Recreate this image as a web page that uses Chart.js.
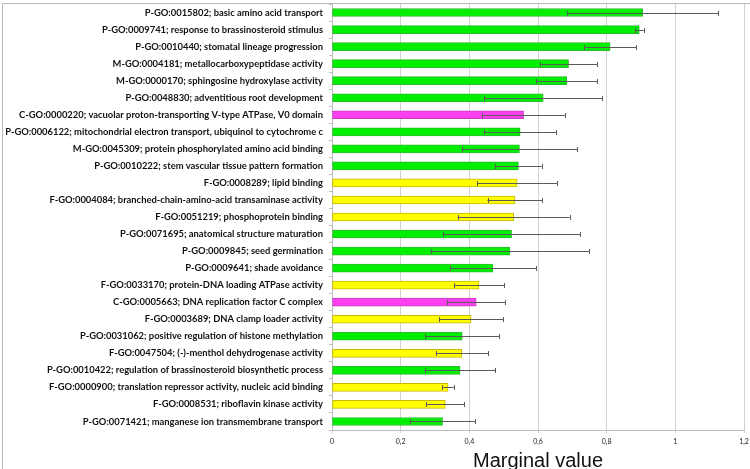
<!DOCTYPE html>
<html>
<head>
<meta charset="utf-8">
<script src="https://cdn.jsdelivr.net/npm/chart.js@4.4.1/dist/chart.umd.min.js"></script>
<style>
  body { margin: 0; background: #fff; }
  canvas { display: block; }
</style>
</head>
<body>
<canvas id="chart" width="750" height="469"></canvas>
<script>
// GO terms, top to bottom as in the figure
const terms = [
  "P-GO:0015802; basic amino acid transport",
  "P-GO:0009741; response to brassinosteroid stimulus",
  "P-GO:0010440; stomatal lineage progression",
  "M-GO:0004181; metallocarboxypeptidase activity",
  "M-GO:0000170; sphingosine hydroxylase activity",
  "P-GO:0048830; adventitious root development",
  "C-GO:0000220; vacuolar proton-transporting V-type ATPase, V0 domain",
  "P-GO:0006122; mitochondrial electron transport, ubiquinol to cytochrome c",
  "M-GO:0045309; protein phosphorylated amino acid binding",
  "P-GO:0010222; stem vascular tissue pattern formation",
  "F-GO:0008289; lipid binding",
  "F-GO:0004084; branched-chain-amino-acid transaminase activity",
  "F-GO:0051219; phosphoprotein binding",
  "P-GO:0071695; anatomical structure maturation",
  "P-GO:0009845; seed germination",
  "P-GO:0009641; shade avoidance",
  "F-GO:0033170; protein-DNA loading ATPase activity",
  "C-GO:0005663; DNA replication factor C complex",
  "F-GO:0003689; DNA clamp loader activity",
  "P-GO:0031062; positive regulation of histone methylation",
  "F-GO:0047504; (-)-menthol dehydrogenase activity",
  "P-GO:0010422; regulation of brassinosteroid biosynthetic process",
  "F-GO:0000900; translation repressor activity, nucleic acid binding",
  "F-GO:0008531; riboflavin kinase activity",
  "P-GO:0071421; manganese ion transmembrane transport"
];

const marginal = [0.905, 0.895, 0.810, 0.689, 0.684, 0.615, 0.558, 0.548, 0.546, 0.543,
                  0.539, 0.533, 0.529, 0.523, 0.518, 0.469, 0.428, 0.420, 0.405, 0.379,
                  0.378, 0.373, 0.338, 0.330, 0.322];

const errors = [0.220, 0.013, 0.076, 0.083, 0.089, 0.172, 0.120, 0.104, 0.168, 0.068,
                0.117, 0.080, 0.163, 0.200, 0.231, 0.126, 0.073, 0.085, 0.093, 0.107,
                0.076, 0.103, 0.017, 0.055, 0.095];

const xTicks = [0, 0.2, 0.4, 0.6, 0.8, 1, 1.2];

// colour by GO namespace prefix
function fillFor(t) {
  const p = t.charAt(0);
  if (p === 'F') return '#ffff00';
  if (p === 'C') return '#ff40f0';
  return '#00ee00';
}
function edgeFor(t) {
  const p = t.charAt(0);
  if (p === 'F') return '#c9b800';
  if (p === 'C') return '#c23cc0';
  return '#2cba2c';
}

const errorBars = {
  id: 'errorBars',
  afterDatasetsDraw(chart) {
    const ctx = chart.ctx;
    const x = chart.scales.x;
    const meta = chart.getDatasetMeta(0);
    ctx.save();
    ctx.strokeStyle = '#5a5a5a';
    ctx.lineWidth = 1;
    meta.data.forEach((bar, i) => {
      const y = Math.round(bar.y) + 0.5;
      const x0 = x.getPixelForValue(marginal[i] - errors[i]);
      const x1 = x.getPixelForValue(marginal[i] + errors[i]);
      ctx.beginPath();
      ctx.moveTo(x0, y);
      ctx.lineTo(x1, y);
      ctx.moveTo(Math.round(x0) + 0.5, y - 2.5);
      ctx.lineTo(Math.round(x0) + 0.5, y + 2.5);
      ctx.moveTo(Math.round(x1) + 0.5, y - 2.5);
      ctx.lineTo(Math.round(x1) + 0.5, y + 2.5);
      ctx.stroke();
    });
    ctx.restore();
  }
};

const frame = {
  id: 'frame',
  beforeDraw(chart) {
    const ctx = chart.ctx;
    ctx.save();
    ctx.fillStyle = '#fff';
    ctx.fillRect(0, 0, chart.width, chart.height);
    ctx.strokeStyle = '#b8b8b8';
    ctx.lineWidth = 1;
    ctx.strokeRect(2.5, 3.5, 800, 500);
    ctx.restore();
  }
};

new Chart(document.getElementById('chart'), {
  type: 'bar',
  data: {
    labels: terms,
    datasets: [{
      data: marginal,
      backgroundColor: terms.map(fillFor),
      borderColor: terms.map(edgeFor),
      borderWidth: 1,
      borderSkipped: false,
      barThickness: 8
    }]
  },
  options: {
    indexAxis: 'y',
    responsive: false,
    animation: false,
    layout: { padding: { top: 4, right: 6, left: 0, bottom: 0 } },
    plugins: {
      legend: { display: false },
      tooltip: { enabled: false }
    },
    scales: {
      x: {
        min: 0,
        max: 1.2,
        afterBuildTicks: (s) => { s.ticks = xTicks.map(v => ({ value: v })); },
        ticks: {
          callback: (v) => String(+v.toFixed(1)).replace('.', ','),
          font: { family: 'Lato', size: 7 },
          color: '#222',
          padding: 5,
          maxRotation: 0
        },
        grid: { color: '#d2d2d2', tickLength: 3 },
        border: { color: '#bdbdbd' },
        title: {
          display: true,
          text: 'Marginal value',
          font: { family: 'Liberation Sans', size: 20, lineHeight: 1 },
          color: '#111',
          padding: { top: 0, bottom: -2 }
        },
        afterFit: (s) => {
          s.height = 39;
          s.paddingLeft = 0;
          s.paddingRight = 0;
        }
      },
      y: {
        ticks: {
          font: { family: 'Lato', size: 9.4, weight: 'bold' },
          color: '#111',
          padding: 6,
          autoSkip: false
        },
        grid: { offset: true, drawOnChartArea: false, tickLength: 3, color: '#bdbdbd' },
        border: { color: '#bdbdbd' },
        afterFit: (s) => {
          s.width = 332;
          s.paddingTop = 0;
          s.paddingBottom = 0;
        }
      }
    }
  },
  plugins: [frame, errorBars]
});
</script>
</body>
</html>
